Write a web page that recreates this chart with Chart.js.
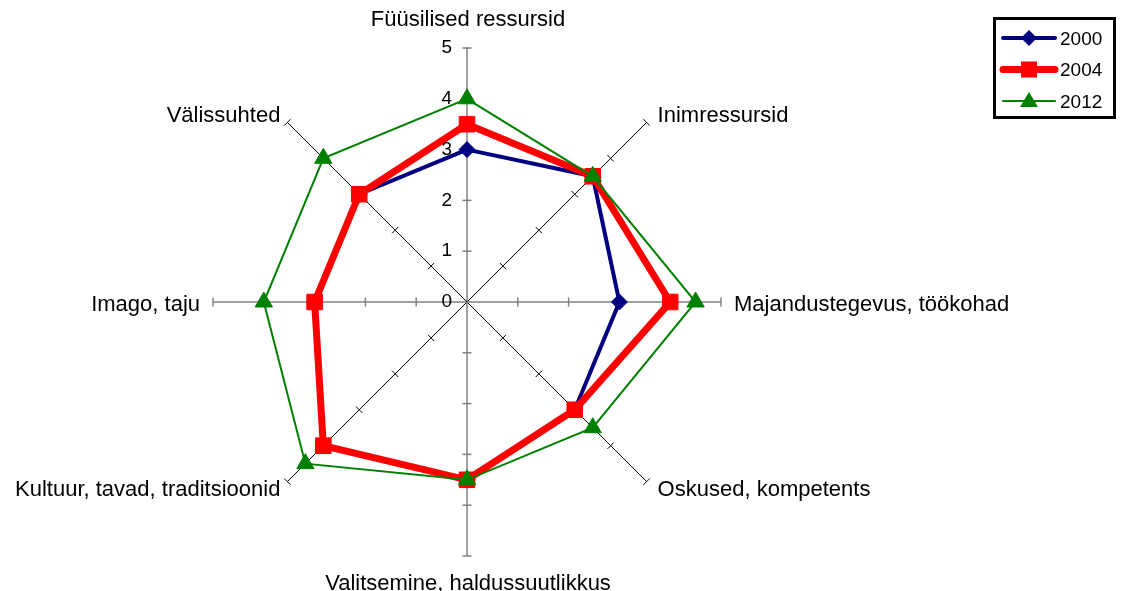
<!DOCTYPE html>
<html>
<head>
<meta charset="utf-8">
<script src="https://cdn.jsdelivr.net/npm/chart.js@4/dist/chart.umd.min.js"></script>
<style>
  html, body { margin: 0; padding: 0; background: #fff; }
  #wrap { width: 1125px; height: 591px; position: relative; }
</style>
</head>
<body>
<div id="wrap"><canvas id="radar" width="1125" height="591"></canvas></div>
<script>
//-- data of the chart ---->
var axisLabels = ['Füüsilised ressursid', 'Inimressursid', 'Majandustegevus, töökohad', 'Oskused, kompetents',
                  'Valitsemine, haldussuutlikkus', 'Kultuur, tavad, traditsioonid', 'Imago, taju', 'Välissuhted'];
var years = ['2000', '2004', '2012'];
var values2000 = [3, 3.5, 3, 3, 3.5, 4, 3, 3];
var values2004 = [3.5, 3.5, 4, 3, 3.5, 4, 3, 3];
var values2012 = [4, 3.5, 4.5, 3.5, 3.5, 4.5, 4, 4];
var tickLabels = ['0', '1', '2', '3', '4', '5'];

var fontName = "'Liberation Sans', Arial, sans-serif";

//-- spokes, tick marks, labels and legend ---->
var decor = {
    id: 'decor',
    beforeDatasetsDraw: function (chart) {
        var ctx = chart.ctx;
        var r = chart.scales.r;
        var n = axisLabels.length;
        ctx.save();
        for (var i = 0; i < n; i++) {
            var straight = i % 2 == 0;
            ctx.strokeStyle = straight ? '#808080' : '#000';
            ctx.lineWidth = straight ? 1.5 : 1;
            var end = r.getPointPositionForValue(i, 5);
            ctx.beginPath();
            ctx.moveTo(r.xCenter, r.yCenter);
            ctx.lineTo(end.x, end.y);
            ctx.stroke();
            // tick marks
            var ang = r.getIndexAngle(i) - Math.PI / 2;
            var px = -Math.sin(ang), py = Math.cos(ang);
            for (var v = 1; v <= 5; v++) {
                var p = r.getPointPositionForValue(i, v);
                ctx.beginPath();
                ctx.moveTo(p.x - px * 4.5, p.y - py * 4.5);
                ctx.lineTo(p.x + px * 4.5, p.y + py * 4.5);
                ctx.stroke();
            }
        }
        ctx.restore();
    },
    afterDraw: function (chart) {
        var ctx = chart.ctx;
        var r = chart.scales.r;
        ctx.save();
        ctx.fillStyle = '#000';
        // value labels on the top spoke
        ctx.font = '19px ' + fontName;
        ctx.textAlign = 'right';
        ctx.textBaseline = 'middle';
        for (var t = 0; t < tickLabels.length; t++) {
            var tp = r.getPointPositionForValue(0, t);
            ctx.fillText(tickLabels[t], tp.x - 15, tp.y);
        }
        // axis names
        ctx.font = '22px ' + fontName;
        for (var i = 0; i < axisLabels.length; i++) {
            var ang = r.getIndexAngle(i) - Math.PI / 2;
            var c = Math.cos(ang), s = Math.sin(ang);
            var e = r.getPointPositionForValue(i, 5);
            var x = e.x, y = e.y;
            if (Math.abs(c) < 0.01) {
                ctx.textAlign = 'center';
                y += s * 28;
                x += 1;
            } else if (Math.abs(s) < 0.01) {
                ctx.textAlign = c > 0 ? 'left' : 'right';
                x += (c > 0 ? 1 : -1) * 13;
                y += 3;
            } else {
                ctx.textAlign = c > 0 ? 'left' : 'right';
                x += c > 0 ? 11 : -7;
                y += s > 0 ? 8 : -6;
            }
            ctx.fillText(axisLabels[i], x, y);
        }
        // legend
        ctx.strokeStyle = '#000';
        ctx.lineWidth = 3;
        ctx.strokeRect(994.5, 18.5, 120, 99);
        var ds = chart.data.datasets;
        ctx.font = '19px ' + fontName;
        ctx.textAlign = 'left';
        for (var k = 0; k < ds.length; k++) {
            var ly = 38 + k * 31.5;
            ctx.strokeStyle = ds[k].borderColor;
            ctx.fillStyle = ds[k].borderColor;
            ctx.lineWidth = ds[k].borderWidth;
            ctx.lineCap = 'round';
            ctx.beginPath();
            ctx.moveTo(1003, ly);
            ctx.lineTo(1055, ly);
            ctx.stroke();
            ctx.beginPath();
            if (ds[k].pointStyle == 'rectRot') {
                ctx.moveTo(1029, ly - 8); ctx.lineTo(1037, ly); ctx.lineTo(1029, ly + 8); ctx.lineTo(1021, ly);
            } else if (ds[k].pointStyle == 'rect') {
                ctx.rect(1021, ly - 8, 16, 16);
            } else {
                ctx.moveTo(1029, ly - 9); ctx.lineTo(1038, ly + 6); ctx.lineTo(1020, ly + 6);
            }
            ctx.closePath();
            ctx.fill();
            ctx.fillStyle = '#000';
            ctx.fillText(ds[k].label, 1060, ly + 1.5);
        }
        ctx.restore();
    }
};

var myRadar = new Chart(document.getElementById('radar'), {
    type: 'radar',
    data: {
        labels: axisLabels,
        datasets: [{
            label: years[0],
            data: values2000,
            borderColor: '#000080',
            backgroundColor: '#000080',
            borderWidth: 4,
            pointStyle: 'rectRot',
            pointRadius: 8,
            pointBorderWidth: 1,
            fill: false,
            order: 3
        }, {
            label: years[1],
            data: values2004,
            borderColor: '#ff0000',
            backgroundColor: '#ff0000',
            borderWidth: 7,
            pointStyle: 'rect',
            pointRadius: 11,
            pointBorderWidth: 1,
            fill: false,
            order: 2
        }, {
            label: years[2],
            data: values2012,
            borderColor: '#008000',
            backgroundColor: '#008000',
            borderWidth: 2,
            pointStyle: 'triangle',
            pointRadius: 10,
            pointBorderWidth: 1,
            fill: false,
            order: 1
        }]
    },
    options: {
        responsive: false,
        maintainAspectRatio: false,
        animation: false,
        devicePixelRatio: 1,
        layout: { padding: { left: 213, right: 404, top: 48, bottom: 35 } },
        elements: { line: { tension: 0 } },
        plugins: { legend: { display: false }, tooltip: { enabled: false } },
        scales: {
            r: {
                min: 0,
                max: 5,
                ticks: { display: false, stepSize: 1 },
                grid: { display: false },
                angleLines: { display: false },
                pointLabels: { display: false }
            }
        }
    },
    plugins: [decor]
});
</script>
</body>
</html>
